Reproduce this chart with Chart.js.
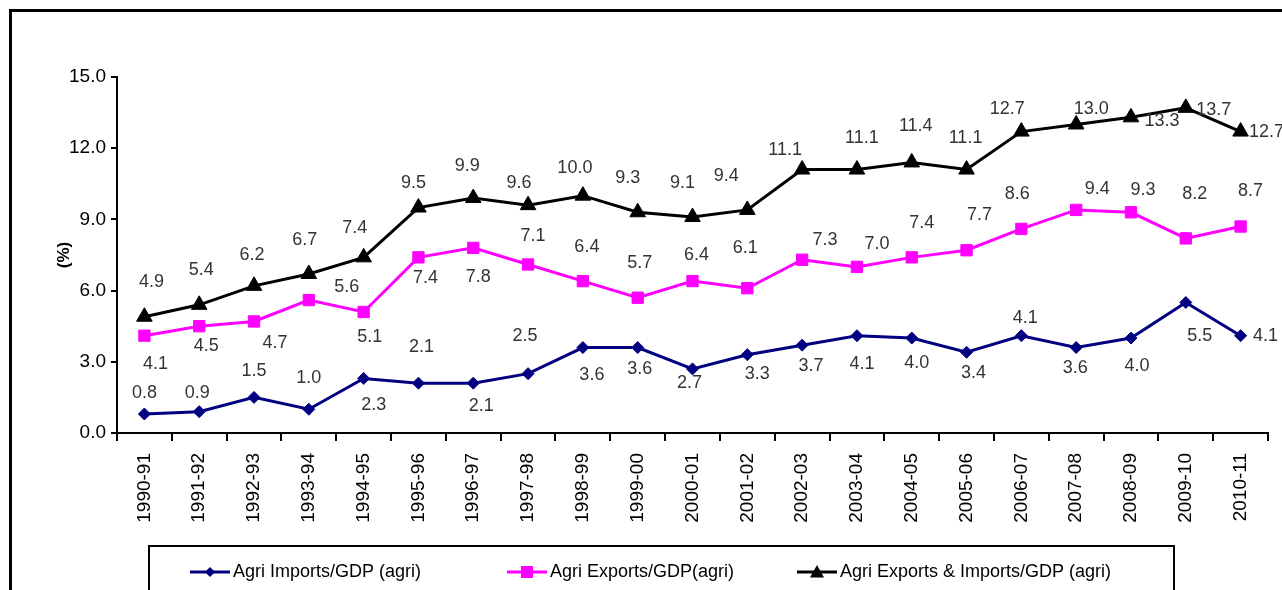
<!DOCTYPE html>
<html>
<head>
<meta charset="utf-8">
<title>Agri trade / GDP (agri)</title>
<script src="https://cdn.jsdelivr.net/npm/chart.js@4.4.1/dist/chart.umd.min.js"></script>
<style>
    html, body { margin: 0; padding: 0; background: #fff; }
    #wrap { position: relative; width: 1282px; height: 590px; overflow: hidden; }
    #frame {
        position: absolute; left: 9px; top: 9px; width: 1300px; height: 600px;
        border-left: 3px solid #000; border-top: 3px solid #000;
    }
    #tradeChart { position: absolute; left: 0; top: 0; }
</style>
</head>
<body>
<div id="wrap">
    <div id="frame"></div>
    <canvas id="tradeChart" width="1282" height="590"></canvas>
</div>
<script>
const years = [
    "1990-91", "1991-92", "1992-93", "1993-94", "1994-95", "1995-96", "1996-97",
    "1997-98", "1998-99", "1999-00", "2000-01", "2001-02", "2002-03", "2003-04",
    "2004-05", "2005-06", "2006-07", "2007-08", "2008-09", "2009-10", "2010-11",
];
const importsGdp = [0.8, 0.9, 1.5, 1.0, 2.3, 2.1, 2.1, 2.5, 3.6, 3.6, 2.7, 3.3, 3.7, 4.1, 4.0, 3.4, 4.1, 3.6, 4.0, 5.5, 4.1];
const exportsGdp = [4.1, 4.5, 4.7, 5.6, 5.1, 7.4, 7.8, 7.1, 6.4, 5.7, 6.4, 6.1, 7.3, 7.0, 7.4, 7.7, 8.6, 9.4, 9.3, 8.2, 8.7];
const tradeGdp = [4.9, 5.4, 6.2, 6.7, 7.4, 9.5, 9.9, 9.6, 10.0, 9.3, 9.1, 9.4, 11.1, 11.1, 11.4, 11.1, 12.7, 13.0, 13.3, 13.7, 12.7];
const yTicks = [0, 3, 6, 9, 12, 15];

// where each value label sits relative to its point, [dx, dy] in px
const importsLabelPos = [
    [0, -21], [-2, -19], [0, -26], [0, -31], [10, 27], [3, -36], [8, 23], [-3, -38], [9, 27], [2, 21],
    [-3, 14], [10, 19], [9, 21], [5, 28], [5, 25], [7, 21], [4, -18], [-1, 20], [6, 28], [14, 34], [25, 0],
];
const exportsLabelPos = [
    [11, 28], [7, 20], [21, 22], [38, -13], [6, 25], [7, 21], [5, 29], [5, -28], [4, -34], [2, -35],
    [4, -26], [-2, -40], [23, -20], [20, -23], [10, -34], [13, -35], [-4, -35], [21, -21], [12, -22], [9, -44], [10, -35],
];
const tradeLabelPos = [
    [7, -35], [2, -35], [-2, -31], [-4, -34], [-9, -29], [-5, -25], [-6, -32], [-9, -22], [-8, -28], [-10, -34],
    [-10, -34], [-21, -34], [-17, -20], [5, -32], [4, -36], [-1, -32], [-14, -23], [15, -15], [31, 4], [28, 2], [26, 0],
];

const FONT = "'Liberation Sans', Arial, sans-serif";

// value labels next to every point
const valueLabels = {
    id: "valueLabels",
    afterDatasetsDraw(chart) {
        const ctx = chart.ctx;
        ctx.save();
        ctx.font = "18px " + FONT;
        ctx.fillStyle = "#333";
        ctx.textAlign = "center";
        ctx.textBaseline = "middle";
        chart.data.datasets.forEach((ds, di) => {
            const meta = chart.getDatasetMeta(di);
            meta.data.forEach((pt, i) => {
                const off = ds.labelPos[i];
                ctx.fillText(ds.data[i].toFixed(1), pt.x + off[0], pt.y + off[1]);
            });
        });
        ctx.restore();
    },
};

function drawMarker(ctx, style, x, y, size) {
    ctx.beginPath();
    if (style === "diamond") {
        ctx.moveTo(x, y - size);
        ctx.lineTo(x + size, y);
        ctx.lineTo(x, y + size);
        ctx.lineTo(x - size, y);
    } else if (style === "square") {
        ctx.rect(x - size, y - size, size * 2, size * 2);
    } else {
        ctx.moveTo(x, y - size);
        ctx.lineTo(x + size, y + size * 0.8);
        ctx.lineTo(x - size, y + size * 0.8);
    }
    ctx.closePath();
    ctx.fill();
}

// boxed legend under the axis labels
const boxLegend = {
    id: "boxLegend",
    afterDraw(chart) {
        const ctx = chart.ctx;
        const items = [
            { x: 190, marker: "diamond", size: 5, ds: 0 },
            { x: 507, marker: "square", size: 6, ds: 1 },
            { x: 797, marker: "triangle", size: 7, ds: 2 },
        ];
        ctx.save();
        ctx.lineWidth = 2;
        ctx.strokeStyle = "#000";
        ctx.strokeRect(149, 546, 1025, 80);
        const y = 572;
        ctx.font = "18px " + FONT;
        ctx.textBaseline = "middle";
        ctx.textAlign = "left";
        items.forEach((it) => {
            const ds = chart.data.datasets[it.ds];
            ctx.strokeStyle = ds.borderColor;
            ctx.fillStyle = ds.borderColor;
            ctx.lineWidth = 3;
            ctx.beginPath();
            ctx.moveTo(it.x, y);
            ctx.lineTo(it.x + 40, y);
            ctx.stroke();
            drawMarker(ctx, it.marker, it.x + 20, y, it.size);
            ctx.fillStyle = "#000";
            ctx.fillText(ds.label, it.x + 43, y);
        });
        ctx.restore();
    },
};

const tradeChart = new Chart(document.getElementById("tradeChart"), {
    type: "line",
    data: {
        labels: years,
        datasets: [
            {
                label: "Agri Imports/GDP (agri)",
                data: importsGdp,
                labelPos: importsLabelPos,
                borderColor: "#000080",
                backgroundColor: "#000080",
                borderWidth: 3,
                pointStyle: "rectRot",
                pointRadius: 6,
                pointBorderWidth: 1,
            },
            {
                label: "Agri Exports/GDP(agri)",
                data: exportsGdp,
                labelPos: exportsLabelPos,
                borderColor: "#ff00ff",
                backgroundColor: "#ff00ff",
                borderWidth: 3,
                pointStyle: "rect",
                pointRadius: 8,
                pointBorderWidth: 1,
            },
            {
                label: "Agri Exports & Imports/GDP (agri)",
                data: tradeGdp,
                labelPos: tradeLabelPos,
                borderColor: "#000000",
                backgroundColor: "#000000",
                borderWidth: 3,
                pointStyle: "triangle",
                pointRadius: 9,
                pointBorderWidth: 1,
            },
        ],
    },
    options: {
        responsive: false,
        animation: false,
        devicePixelRatio: 1,
        layout: {
            padding: { left: 54, top: 77, right: 14, bottom: 0 },
        },
        plugins: {
            legend: { display: false },
            tooltip: { enabled: false },
        },
        scales: {
            x: {
                offset: true,
                grid: {
                    offset: true,
                    drawOnChartArea: false,
                    tickLength: 8,
                    color: "#000",
                    lineWidth: 2,
                },
                border: { color: "#000", width: 2 },
                ticks: {
                    autoSkip: false,
                    minRotation: 90,
                    maxRotation: 90,
                    padding: 12,
                    color: "#000",
                    font: { family: FONT, size: 19 },
                },
                afterFit: (scale) => { scale.height = 157; },
            },
            y: {
                min: 0,
                max: 15,
                afterBuildTicks: (scale) => {
                    scale.ticks = yTicks.map((v) => ({ value: v }));
                },
                grid: {
                    drawOnChartArea: false,
                    tickLength: 6,
                    color: "#000",
                    lineWidth: 2,
                },
                border: { color: "#000", width: 2 },
                ticks: {
                    padding: 5,
                    color: "#000",
                    font: { family: FONT, size: 19 },
                    callback: (v) => Number(v).toFixed(1),
                },
                title: {
                    display: true,
                    text: "(%)",
                    color: "#000",
                    padding: 0,
                    font: { family: FONT, size: 17, weight: "bold" },
                },
                afterFit: (scale) => { scale.width = 63; },
            },
        },
    },
    plugins: [valueLabels, boxLegend],
});
</script>
</body>
</html>
